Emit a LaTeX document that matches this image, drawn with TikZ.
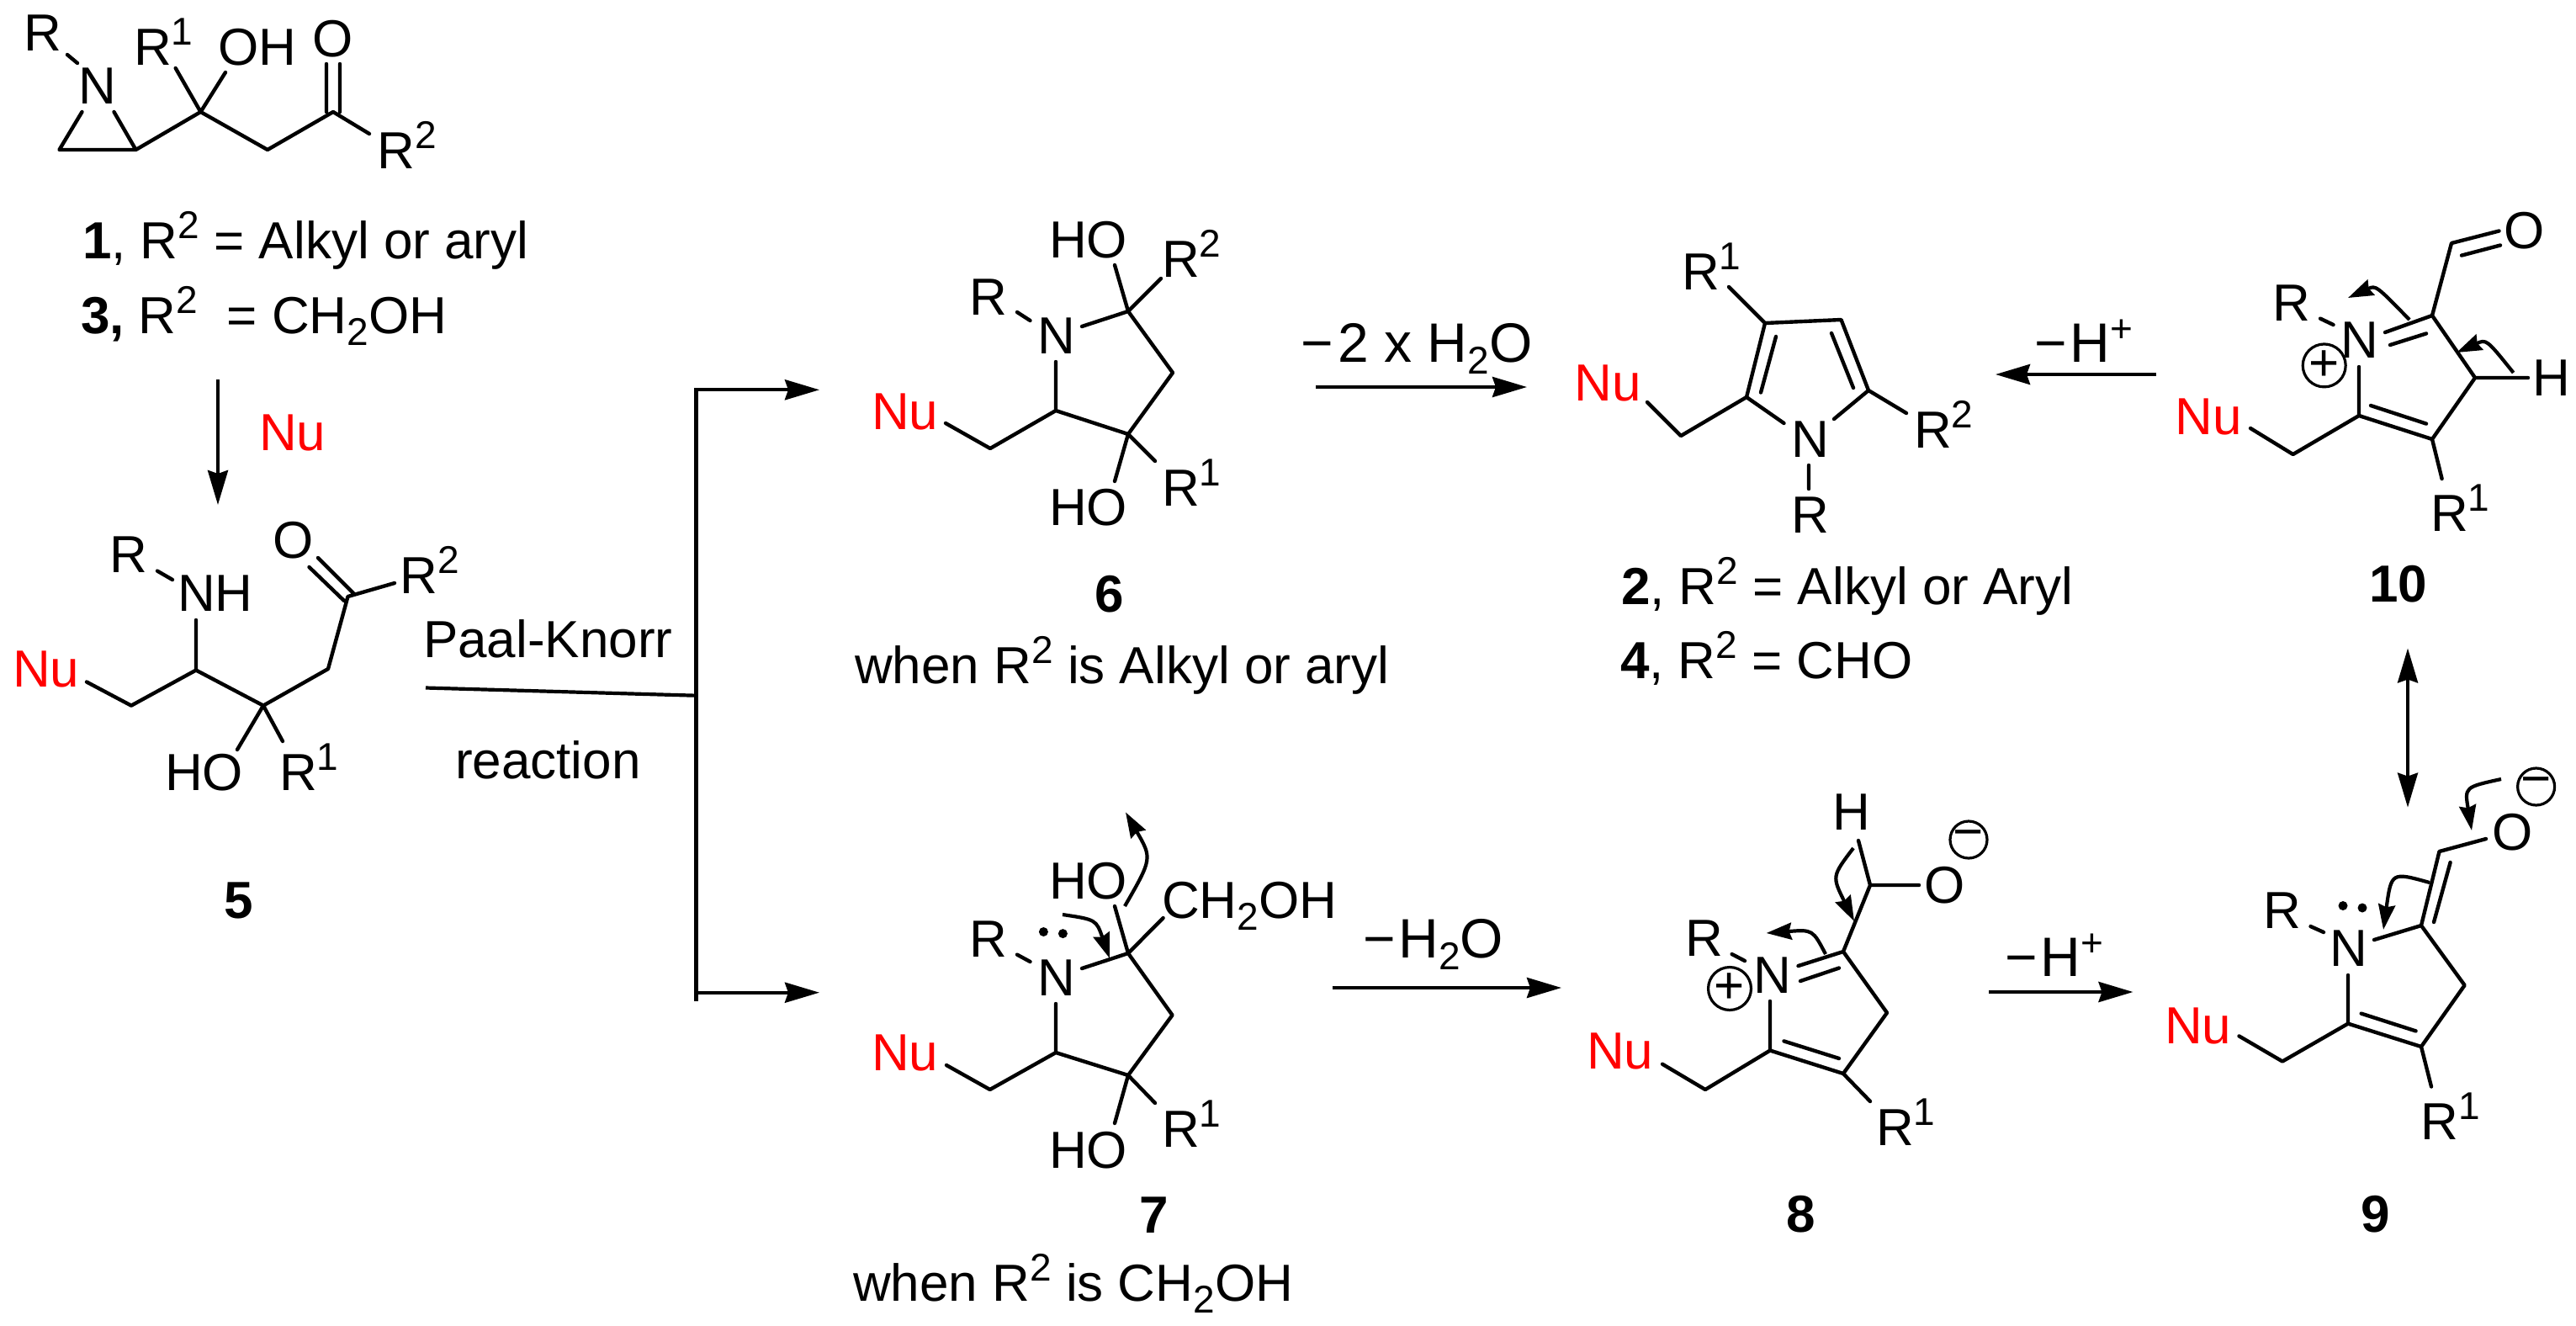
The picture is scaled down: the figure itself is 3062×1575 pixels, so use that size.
\documentclass[tikz,border=0pt]{standalone}
\usepackage{fontspec}
\setmainfont{Liberation Sans}
\usetikzlibrary{arrows.meta}
\definecolor{nured}{RGB}{255,0,0}
\newcommand\sps[1]{\raisebox{12pt}{\fontsize{23}{23}\selectfont #1}}
\newcommand\sbs[1]{\raisebox{-7pt}{\fontsize{23}{23}\selectfont #1}}
\newcommand\lab[4]{\node[lbl] (#1) at (#2-4,#3) {#4};}
\newcommand\arl[4]{\node[lbl,font=\fontsize{33}{33}\selectfont] (#1) at (#2-4,#3) {#4};}
\newcommand\pts[1]{\foreach \n/\x/\y in {#1} {\coordinate (\n) at (\x,\y);}}
\tikzset{
  lbl/.style={anchor=base west,inner sep=0pt,outer sep=0pt,font=\fontsize{31}{31}\selectfont},
  bond/.style={line width=2.2pt,line cap=round,line join=round},
  rxn/.style={line width=2.1pt,-{Stealth[length=20.5pt,width=12pt,inset=2pt]}},
  rxnb/.style={line width=1.9pt,{Stealth[length=20.5pt,width=12pt,inset=2pt]}-{Stealth[length=20.5pt,width=12pt,inset=2pt]}},
  curly/.style={line width=2.1pt,-{Stealth[length=15pt,width=10pt,inset=1.5pt]}},
  circ/.style={circle,draw,line width=1.6pt,minimum size=22pt,inner sep=0pt,font=\fontsize{31}{31}\selectfont},
  dot/.style={circle,fill=black,inner sep=0pt,minimum size=5.5pt}
}
\begin{document}
\begin{tikzpicture}[x=0.5pt,y=-0.5pt]
\useasboundingbox (0,0) rectangle (3062,1575);
% ---- compound 1
\pts{a1/80/65,a2/92/75,a3/135.5/133,a4/161.5/178,a5/97.5/133,a6/70.5/178,a7/238.5/133,a8/208.7/81,a9/268/86,a10/318/178,a11/396/133,a12/388/133,a13/388/76,a14/404/133,a15/404/76,a16/439/159}
\draw[bond] (a1)--(a2) (a3)--(a4)--(a6)--(a5) (a4)--(a7)--(a8) (a7)--(a9) (a7)--(a10)--(a11)--(a16) (a12)--(a13) (a14)--(a15);
\lab{t1a}{32.5}{60}{R}
\lab{t1b}{97.5}{123}{N}
\lab{t1c}{163}{77}{R\sps{1}}
\lab{t1d}{263}{77}{OH}
\lab{t1e}{375}{67}{O}
\lab{t1f}{452.6}{200}{R\sps{2}}
\lab{t1g}{102}{307}{\textbf{1}, R\sps{2} = Alkyl or aryl}
\lab{t1h}{100}{396}{\textbf{3,} R\sps{2}\ \ = CH\sbs{2}OH}
% arrow 1 to 5
\coordinate (n1) at (259,451); \coordinate (n2) at (259,600);
\draw[rxn] (n1)--(n2);
\lab{nu0}{312}{535}{\textcolor{nured}{Nu}}
% ---- compound 5
\pts{b1/187/678.6,b2/205/689,b3/233/737,b4/233/796.5,b5/156/838.6,b6/103/810.5,b7/313/838.6,b8/390/795,b9/413.5/709,b10/409/714,b11/367.5/674,b12/420/705,b13/378/663,b14/469/693,b15/282/891,b16/336/881}
\draw[bond] (b1)--(b2) (b3)--(b4)--(b5)--(b6) (b4)--(b7)--(b8)--(b9)--(b14) (b10)--(b11) (b12)--(b13) (b7)--(b15) (b7)--(b16);
\lab{t5a}{134.4}{680.7}{R}
\lab{t5b}{215}{726}{NH}
\lab{t5c}{19}{816}{\textcolor{nured}{Nu}}
\lab{t5d}{328}{663}{O}
\lab{t5e}{479.7}{705}{R\sps{2}}
\lab{t5f}{200}{939}{HO}
\lab{t5g}{336}{939}{R\sps{1}}
\lab{t5h}{270}{1091}{\textbf{5}}
\lab{pk}{507}{781}{Paal-Knorr}
\lab{pr}{545}{925}{reaction}
% ---- Paal-Knorr branch
\pts{j0/506/817.5,j1/827.3/826.7,j2/827.3/463.3,j3/827.3/1187.7,j4/974/463.3,j6/827.3/1179.7,j5/974/1179.7}
\draw[line width=2.1pt] (j0)--(j1);
\draw[line width=2.3pt,line cap=rect] (j2)--(j3);
\draw[rxn] (j2)--(j4);
\draw[rxn] (j6)--(j5);
% ---- compound 6
\pts{c1/1209/371,c2/1224.5/381,c3/1286/388,c4/1341/370,c5/1325/315,c6/1380/331,c7/1394/443,c8/1341/516,c9/1255/488,c10/1255/430,c11/1177/533,c12/1124/503,c13/1325/572,c14/1373/548}
\draw[bond] (c1)--(c2) (c3)--(c4)--(c5) (c4)--(c6) (c4)--(c7)--(c8)--(c9)--(c10) (c9)--(c11)--(c12) (c8)--(c13) (c8)--(c14);
\lab{t6a}{1156}{374}{R}
\lab{t6b}{1237}{420}{N}
\lab{t6c}{1251}{306}{HO}
\lab{t6d}{1385}{329}{R\sps{2}}
\lab{t6e}{1040}{510}{\textcolor{nured}{Nu}}
\lab{t6f}{1251}{624}{HO}
\lab{t6g}{1385}{601}{R\sps{1}}
\lab{t6h}{1305}{727}{\textbf{6}}
\lab{t6i}{1020}{812.5}{when R\sps{2} is Alkyl or aryl}
% arrow 6 to 2
\coordinate (r1) at (1564,460); \coordinate (r2) at (1815,460);
\draw[rxn] (r1)--(r2);
\arl{t62}{1550}{430}{−\kern3pt 2 x H\sbs{2}O}
% ---- compound 2
\pts{d1/1958/478,d2/1998/518,d3/2076/472,d4/2120.5/503,d5/2180/498,d6/2221/464,d7/2266/491,d8/2098/384,d9/2093/466.5,d10/2111/400,d11/2188.5/380,d12/2177/396,d13/2203/461,d14/2055/341,d15/2150/553,d16/2150/581}
\draw[bond] (d1)--(d2)--(d3)--(d4) (d5)--(d6)--(d7) (d3)--(d8)--(d11)--(d6) (d9)--(d10) (d12)--(d13) (d8)--(d14) (d15)--(d16);
\lab{t2a}{1875.5}{476}{\textcolor{nured}{Nu}}
\lab{t2b}{2133}{543}{N}
\lab{t2c}{2279}{532}{R\sps{2}}
\lab{t2d}{2003}{344}{R\sps{1}}
\lab{t2e}{2133}{633}{R}
\lab{t2f}{1931}{718}{\textbf{2}, R\sps{2} = Alkyl or Aryl}
\lab{t2g}{1930}{806}{\textbf{4}, R\sps{2} = CHO}
% arrow 10 to 2
\coordinate (s1) at (2563,445); \coordinate (s2) at (2372,445);
\draw[rxn] (s1)--(s2);
\arl{t102}{2422}{430}{−\kern2pt H\sps{+}}
% ---- compound 10
\pts{e1/2914/289,e2/2970.5/274.5,e3/2926/303.6,e4/2972/291.5,e5/2891/375,e6/2758/378.6,e7/2773.5/386,e8/2835/395,e9/2841/410,e10/2884/396.4,e11/2942/449,e12/2891/522,e13/2804/494,e14/2884/503.6,e15/2818/482,e16/2804/436,e17/2725.6/540,e18/2675/509,e19/2902.6/569,e20/3005/449}
\draw[bond] (e2)--(e1)--(e5)--(e8) (e3)--(e4) (e6)--(e7) (e9)--(e10) (e5)--(e11)--(e12)--(e13)--(e16) (e14)--(e15) (e13)--(e17)--(e18) (e12)--(e19) (e11)--(e20);
\lab{t10a}{2980}{295}{O}
\lab{t10b}{2705.5}{381}{R}
\lab{t10c}{2786.6}{425}{N}
\lab{t10d}{2589.6}{516}{\textcolor{nured}{Nu}}
\lab{t10e}{2893}{631}{R\sps{1}}
\lab{t10f}{3014.6}{470.5}{H}
\lab{t10g}{2820}{715.6}{\textbf{10}}
\node[circ] (p10) at (2762.7,434.4) {+};
\pts{ea/2864/380,eb/2791/354,ec/2987.6/443,ed/2920/419}
\draw[curly] (ea) .. controls (2824.1,339) .. (eb);
\draw[curly] (ec) .. controls (2955.5,403) .. (ed);
% double arrow 10 / 9
\coordinate (u1) at (2862,770.5); \coordinate (u2) at (2862,959.6);
\draw[rxnb] (u1)--(u2);
% ---- compound 7
\pts{f1/1209/1134.6,f2/1224.5/1143,f3/1286/1151,f4/1341/1133,f5/1325/1077,f6/1382.6/1091,f7/1393.5/1206.5,f8/1341/1278,f9/1255/1251,f10/1255/1193,f11/1176.7/1295,f12/1125/1266,f13/1325/1335,f14/1373/1311}
\draw[bond] (f1)--(f2) (f3)--(f4)--(f5) (f4)--(f6) (f4)--(f7)--(f8)--(f9)--(f10) (f9)--(f11)--(f12) (f8)--(f13) (f8)--(f14);
\lab{t7a}{1156}{1137}{R}
\lab{t7b}{1237}{1183}{N}
\lab{t7c}{1251}{1068}{HO}
\lab{t7d}{1385}{1091}{CH\sbs{2}OH}
\lab{t7e}{1040}{1272}{\textcolor{nured}{Nu}}
\lab{t7f}{1251}{1388}{HO}
\lab{t7g}{1385}{1363.6}{R\sps{1}}
\lab{t7h}{1358}{1465}{\textbf{7}}
\lab{t7i}{1018}{1546.6}{when R\sps{2} is CH\sbs{2}OH}
\node[dot] (f15) at (1240.4,1107.5) {};
\node[dot] (f16) at (1263.4,1109.6) {};
\pts{fa/1337/1077,fb/1338/965.4,fc/1263/1087,fd/1319/1139}
\draw[curly] (fa) .. controls (1369.6,1020.3) .. (fb);
\draw[curly] (fc) .. controls (1303,1093) .. (fd);
% arrow 7 to 8
\coordinate (v1) at (1583.5,1174); \coordinate (v2) at (1856,1174);
\draw[rxn] (v1)--(v2);
\arl{t78}{1624}{1138}{−\kern2pt H\sbs{2}O}
% ---- compound 8
\pts{g1/2209/999,g2/2223/1052,g3/2281/1052,g4/2191/1131,g5/2058.6/1134,g6/2074/1142,g7/2137.5/1148,g8/2140/1166,g9/2186/1150.5,g10/2243/1203.7,g11/2191/1276,g12/2104/1248.5,g13/2186/1258,g14/2120.5/1237.4,g15/2104/1190,g16/2027/1295,g17/1976/1264.7,g18/2223/1309}
\draw[bond] (g1)--(g2)--(g3) (g2)--(g4)--(g7) (g5)--(g6) (g8)--(g9) (g4)--(g10)--(g11)--(g12)--(g15) (g13)--(g14) (g12)--(g16)--(g17) (g11)--(g18);
\lab{t8a}{2182}{986}{H}
\lab{t8b}{2291}{1073}{O}
\lab{t8c}{2007}{1136}{R}
\lab{t8d}{2088}{1180.5}{N}
\lab{t8e}{1890}{1270.7}{\textcolor{nured}{Nu}}
\lab{t8f}{2234}{1361}{R\sps{1}}
\lab{t8g}{2127}{1464}{\textbf{8}}
\node[circ] (p8) at (2056,1175) {+};
\node[circ] (m8) at (2340,998) {−};
\pts{ga/2203/1008,gb/2204/1095,gc/2170/1134,gd/2099.6/1109}
\draw[curly] (ga) .. controls (2177.5,1041.5) .. (gb);
\draw[curly] (gc) .. controls (2154.7,1104.8) .. (gd);
% arrow 8 to 9
\coordinate (w1) at (2364,1179); \coordinate (w2) at (2535.5,1179);
\draw[rxn] (w1)--(w2);
\arl{t89}{2387}{1160.7}{−\kern2pt H\sps{+}}
% ---- compound 9
\pts{h1/2746.5/1101,h2/2762/1108,h3/2822/1117,h4/2878/1100,h5/2899.5/1012,h6/2893/1096,h7/2912.6/1025,h8/2955/997,h9/2929.6/1171,h10/2878/1244,h11/2791/1216.6,h12/2871.6/1225.4,h13/2806.7/1204.6,h14/2791/1159,h15/2713/1261.5,h16/2661.5/1231.4,h17/2890/1291.5}
\draw[bond] (h1)--(h2) (h3)--(h4)--(h5)--(h8) (h6)--(h7) (h4)--(h9)--(h10)--(h11)--(h14) (h12)--(h13) (h11)--(h15)--(h16) (h10)--(h17);
\lab{t9a}{2694}{1103}{R}
\lab{t9b}{2773.5}{1148}{N}
\lab{t9c}{2966.6}{1010.4}{O}
\lab{t9d}{2577}{1240}{\textcolor{nured}{Nu}}
\lab{t9e}{2881.7}{1354}{R\sps{1}}
\lab{t9f}{2810}{1464}{\textbf{9}}
\node[circ] (m9) at (3014.6,935) {−};
\node[dot] (h18) at (2785,1076.5) {};
\node[dot] (h19) at (2808,1079) {};
\pts{ha/2888/1049,hb/2833/1105,hc/2973/926,hd/2938/987}
\draw[curly] (ha) .. controls (2842.5,1036.3) .. (hb);
\draw[curly] (hc) .. controls (2929.5,935.5) .. (hd);
\end{tikzpicture}
\end{document}
